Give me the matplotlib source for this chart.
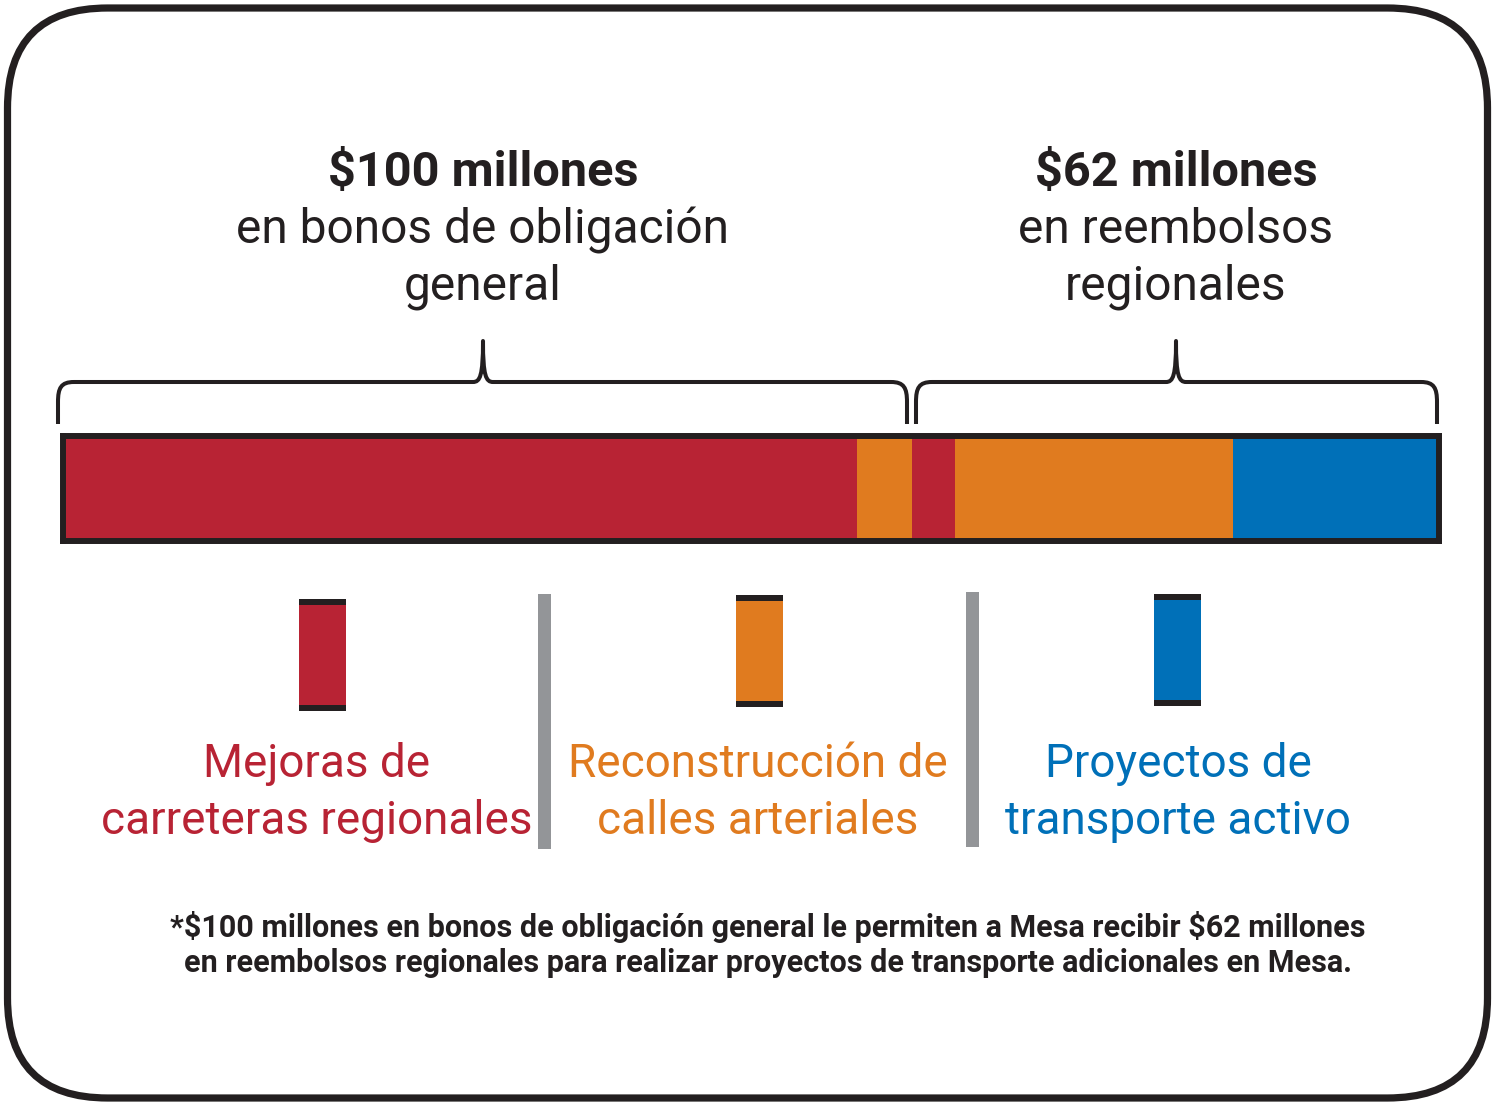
import matplotlib
matplotlib.use("Agg")
import matplotlib.pyplot as plt
from matplotlib.patches import FancyBboxPatch, Rectangle, PathPatch
from matplotlib.path import Path

# segment values in $ millions, left to right along the bar
segment_values = [93.5, 6.5, 5.0, 32.7, 24.3]
segment_kinds = ["roads", "streets", "roads", "streets", "active"]
total_funds = 162

group_titles = ["$100 millones", "$62 millones"]
group_subtitles = [["en bonos de obligación", "general"], ["en reembolsos", "regionales"]]

legend_labels = [["Mejoras de", "carreteras regionales"],
                 ["Reconstrucción de", "calles arteriales"],
                 ["Proyectos de", "transporte activo"]]
legend_kinds = ["roads", "streets", "active"]

footnote = ["*$100 millones en bonos de obligación general le permiten a Mesa recibir $62 millones",
            "en reembolsos regionales para realizar proyectos de transporte adicionales en Mesa."]

colors = {"roads": "#B82334", "streets": "#E07B1F", "active": "#0070B8"}
dark = "#231F20"
grey = "#939598"

plt.rcParams["font.family"] = ["Roboto", "DejaVu Sans"]

W, H = 1494, 1103
fig = plt.figure(figsize=(W / 100, H / 100), dpi=100)
ax = fig.add_axes([0, 0, 1, 1])
ax.set_xlim(0, W)
ax.set_ylim(H, 0)
ax.axis("off")

# rounded frame
ax.add_patch(FancyBboxPatch((7.5, 8), 1480, 1090, boxstyle="round,pad=0,rounding_size=100",
                            fill=False, ec=dark, lw=5.2))

# stacked bar in its own axes, in data units
bx0, bx1, by0, by1 = 63, 1439, 435.5, 540.5
bar_ax = fig.add_axes([bx0 / W, 1 - by1 / H, (bx1 - bx0) / W, (by1 - by0) / H])
left = 0
for v, k in zip(segment_values, segment_kinds):
    bar_ax.barh(0, v, left=left, height=1, color=colors[k], lw=0)
    left += v
bar_ax.set_xlim(0, total_funds)
bar_ax.set_ylim(-0.5, 0.5)
bar_ax.set_xticks([])
bar_ax.set_yticks([])
for s in bar_ax.spines.values():
    s.set_linewidth(4.3)
    s.set_color(dark)


def brace(x0, x1, xm, y_end=424, y_bar=382, y_tip=341):
    verts = [(x0, y_end), (x0, 402),
             (x0, 388), (x0 + 3, y_bar), (x0 + 16, y_bar),
             (xm - 10, y_bar),
             (xm - 3, y_bar), (xm, 376), (xm, y_tip),
             (xm, 376), (xm + 3, y_bar), (xm + 10, y_bar),
             (x1 - 16, y_bar),
             (x1 - 3, y_bar), (x1, 388), (x1, 402),
             (x1, y_end)]
    codes = [Path.MOVETO, Path.LINETO,
             Path.CURVE4, Path.CURVE4, Path.CURVE4,
             Path.LINETO,
             Path.CURVE4, Path.CURVE4, Path.CURVE4,
             Path.CURVE4, Path.CURVE4, Path.CURVE4,
             Path.LINETO,
             Path.CURVE4, Path.CURVE4, Path.CURVE4,
             Path.LINETO]
    ax.add_patch(PathPatch(Path(verts, codes), fill=False, ec=dark, lw=2.9,
                           capstyle="butt", joinstyle="round"))


brace(58, 907, 483)
brace(916, 1437, 1176)

title_x = [483, 1176]
for tx, t, lines in zip(title_x, group_titles, group_subtitles):
    ax.text(tx, 186, t, ha="center", va="baseline", fontsize=35, fontweight="bold",
            color=dark, parse_math=False)
    for i, line in enumerate(lines):
        ax.text(tx, 243 + 57 * i, line, ha="center", va="baseline", fontsize=34.5,
                color=dark, parse_math=False)

# legend swatches and labels
swatch_x = [299, 736, 1154]
swatch_y = [599, 595, 594]
label_x = [317, 758, 1178]
for sx, sy, lx, lines, k in zip(swatch_x, swatch_y, label_x, legend_labels, legend_kinds):
    ax.add_patch(Rectangle((sx, sy), 47, 112, fc=colors[k], ec="none"))
    ax.add_patch(Rectangle((sx, sy), 47, 6, fc=dark, ec="none"))
    ax.add_patch(Rectangle((sx, sy + 106), 47, 6, fc=dark, ec="none"))
    for i, line in enumerate(lines):
        ax.text(lx, 777 + 57 * i, line, ha="center", va="baseline", fontsize=33,
                color=colors[k])

# grey separators
ax.add_patch(Rectangle((538, 594), 12.5, 255, fc=grey, ec="none"))
ax.add_patch(Rectangle((966, 592), 12.5, 255, fc=grey, ec="none"))

for i, line in enumerate(footnote):
    ax.text(768, 937 + 35 * i, line, ha="center", va="baseline", fontsize=22,
            fontweight="bold", color=dark, parse_math=False)

fig.savefig("out.png", dpi=100)
